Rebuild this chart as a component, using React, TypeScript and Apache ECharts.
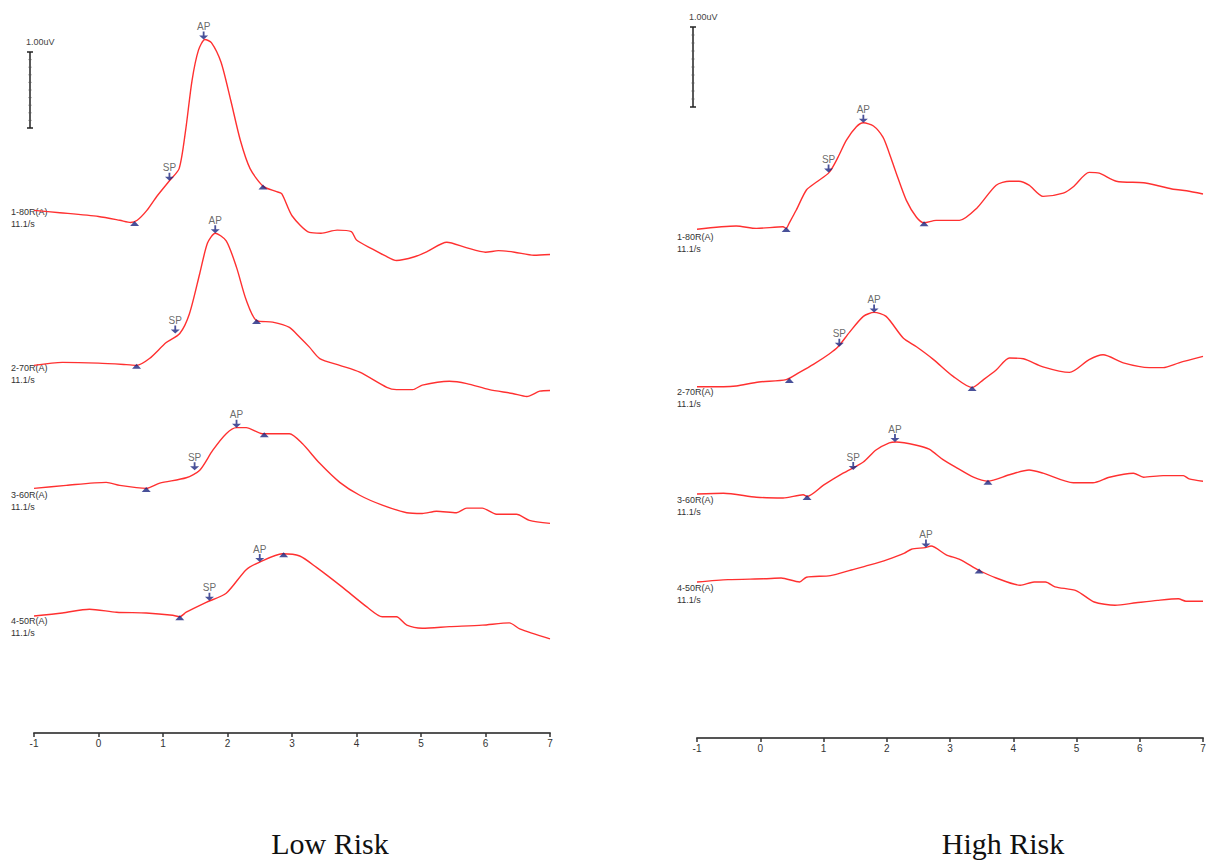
import React, { useEffect, useRef } from "react";
import * as echarts from "echarts";

// ---- x axis (ms) ----
const X_TICKS = [-1, 0, 1, 2, 3, 4, 5, 6, 7];

// ---- trace labels ----
const TRACE_NAMES = ["1-80R(A)", "2-70R(A)", "3-60R(A)", "4-50R(A)"];
const RATE = "11.1/s";

// ---- Low Risk traces: [time ms, amplitude uV relative to start] ----
const L1 = [[-1,0],[-0.6,-0.03],[0,-0.08],[0.33,-0.13],[0.5,-0.16],[0.6,-0.13],[0.75,0],[0.9,0.18],[1.1,0.39],[1.25,0.55],[1.35,1.05],[1.45,1.71],[1.55,2.11],[1.65,2.25],[1.75,2.21],[1.9,1.95],[2.05,1.45],[2.2,0.92],[2.35,0.55],[2.55,0.32],[2.75,0.25],[2.84,0.22],[3.0,-0.07],[3.27,-0.29],[3.45,-0.3],[3.7,-0.26],[3.92,-0.28],[4.0,-0.39],[4.25,-0.51],[4.45,-0.6],[4.62,-0.66],[4.9,-0.61],[5.1,-0.54],[5.4,-0.42],[5.7,-0.49],[6.0,-0.55],[6.2,-0.53],[6.45,-0.55],[6.75,-0.59],[7,-0.58]];
const L2 = [[-1,0],[-0.56,0.04],[0,0.03],[0.43,0.01],[0.59,0],[0.79,0.09],[1.05,0.3],[1.26,0.42],[1.41,0.68],[1.57,1.21],[1.69,1.61],[1.81,1.74],[1.98,1.64],[2.14,1.29],[2.29,0.86],[2.45,0.59],[2.7,0.57],[2.96,0.5],[3.12,0.37],[3.27,0.24],[3.43,0.09],[3.74,0],[4.05,-0.09],[4.47,-0.29],[4.62,-0.32],[4.87,-0.32],[5.02,-0.26],[5.44,-0.21],[5.71,-0.24],[6.06,-0.32],[6.42,-0.37],[6.64,-0.41],[6.84,-0.34],[7,-0.33]];
const L3 = [[-1,0],[-0.5,0.04],[0.12,0.08],[0.33,0.04],[0.74,0],[0.95,0.07],[1.36,0.14],[1.57,0.24],[1.77,0.5],[1.98,0.72],[2.14,0.8],[2.29,0.8],[2.54,0.72],[2.96,0.72],[3.16,0.59],[3.43,0.33],[3.74,0.08],[4.05,-0.09],[4.4,-0.22],[4.78,-0.32],[5.02,-0.33],[5.24,-0.3],[5.55,-0.32],[5.71,-0.26],[5.95,-0.26],[6.17,-0.34],[6.48,-0.34],[6.68,-0.42],[7,-0.46]];
const L4 = [[-1,0],[-0.56,0.04],[-0.14,0.09],[0.28,0.05],[0.74,0.04],[1.15,0.01],[1.26,-0.01],[1.36,0.05],[1.67,0.18],[1.98,0.3],[2.29,0.61],[2.5,0.71],[2.85,0.82],[3.12,0.79],[3.38,0.64],[3.78,0.38],[4.16,0.12],[4.4,-0.01],[4.62,-0.01],[4.78,-0.12],[5.02,-0.16],[5.44,-0.14],[5.95,-0.12],[6.37,-0.09],[6.53,-0.17],[7,-0.3]];
const LOW_TRACES = [L1, L2, L3, L4];
const LOW_OFFSETS = [6.88, 4.84, 3.22, 1.54];

// ---- High Risk traces ----
const R1 = [[-1,0],[-0.38,0.04],[-0.06,0.01],[0.36,0.03],[0.41,0.01],[0.46,0.08],[0.57,0.24],[0.73,0.49],[0.89,0.59],[1.09,0.71],[1.23,0.9],[1.36,1.11],[1.52,1.28],[1.63,1.33],[1.79,1.29],[1.94,1.15],[2.04,0.95],[2.15,0.7],[2.31,0.36],[2.47,0.15],[2.59,0.08],[2.78,0.11],[3.15,0.11],[3.42,0.26],[3.73,0.55],[3.94,0.6],[4.09,0.6],[4.25,0.55],[4.47,0.41],[4.79,0.45],[4.95,0.53],[5.2,0.71],[5.36,0.7],[5.63,0.6],[6.06,0.58],[6.31,0.54],[6.53,0.5],[6.74,0.48],[7,0.44]];
const R2 = [[-1,0],[-0.58,0],[-0.38,0.01],[-0.02,0.06],[0.41,0.09],[0.62,0.18],[0.84,0.28],[1.09,0.41],[1.23,0.5],[1.41,0.68],[1.63,0.88],[1.8,0.93],[1.99,0.88],[2.26,0.61],[2.47,0.5],[2.74,0.34],[3.05,0.13],[3.35,-0.01],[3.53,0.09],[3.73,0.21],[3.94,0.36],[4.16,0.35],[4.47,0.25],[4.89,0.18],[5.2,0.34],[5.42,0.4],[5.74,0.3],[6.15,0.24],[6.37,0.24],[6.62,0.3],[7,0.38]];
const R3 = [[-1,0],[-0.58,0.01],[-0.06,-0.04],[0.36,-0.05],[0.68,-0.01],[0.74,-0.03],[1.0,0.11],[1.31,0.26],[1.63,0.4],[1.83,0.55],[2.04,0.64],[2.15,0.65],[2.47,0.61],[2.67,0.56],[2.89,0.43],[3.1,0.33],[3.37,0.21],[3.6,0.16],[3.94,0.24],[4.25,0.3],[4.47,0.26],[4.95,0.14],[5.26,0.14],[5.52,0.21],[5.9,0.26],[6.06,0.21],[6.37,0.23],[6.69,0.23],[6.78,0.19],[7,0.16]];
const R4 = [[-1,0],[-0.51,0.03],[0.06,0.04],[0.33,0.05],[0.62,0],[0.73,0.06],[1.11,0.08],[1.44,0.15],[1.72,0.21],[2.01,0.28],[2.28,0.36],[2.39,0.41],[2.61,0.43],[2.7,0.45],[2.94,0.34],[3.16,0.28],[3.45,0.15],[3.73,0.05],[4.11,-0.04],[4.33,0],[4.51,0],[4.66,-0.06],[5.0,-0.11],[5.28,-0.25],[5.61,-0.29],[5.94,-0.26],[6.28,-0.23],[6.61,-0.21],[6.73,-0.24],[7,-0.24]];
const HIGH_TRACES = [R1, R2, R3, R4];
const HIGH_OFFSETS = [6.36, 4.39, 3.05, 1.95];

// ---- markers: [time, relative amplitude] ----
const LOW_SP = [[1.10, 0.39], [1.19, 0.42], [1.49, 0.24], [1.72, 0.20]];
const LOW_AP = [[1.63, 2.25], [1.81, 1.74], [2.14, 0.80], [2.50, 0.71]];
const LOW_TRI = [[[0.56, -0.16], [2.55, 0.32]], [[0.59, 0.0], [2.45, 0.59]], [[0.74, 0.0], [2.57, 0.72]], [[1.26, -0.01], [2.87, 0.82]]];
const HIGH_SP = [[1.08, 0.71], [1.25, 0.5], [1.47, 0.3], null];
const HIGH_AP = [[1.63, 1.33], [1.80, 0.93], [2.13, 0.65], [2.62, 0.43]];
const HIGH_TRI = [[[0.41, 0.01], [2.59, 0.08]], [[0.46, 0.09], [3.35, -0.01]], [[0.74, -0.03], [3.60, 0.16]], [[3.46, 0.15]]];

const PANEL_TITLES = ["Low Risk", "High Risk"];

const RED = "#ff3030";
const NAVY = "#1c2580";
const ARROW = "path://M4,0L6,0L6,5L10,5L5,10L0,5L4,5Z";
const SANS = "Liberation Sans, Arial, sans-serif";

function buildSeries(gi: number, traces: number[][][], offsets: number[], sp: any[], ap: number[][], tri: number[][][]) {
  const out: any[] = [];
  traces.forEach((tr, i) => {
    const off = offsets[i];
    out.push({
      type: "line",
      xAxisIndex: gi,
      yAxisIndex: gi,
      data: tr.map((p) => [p[0], p[1] + off]),
      smooth: 0.25,
      showSymbol: false,
      lineStyle: { color: RED, width: 1.4 },
      z: 2,
    });
    const arrows: any[] = [];
    if (sp[i]) arrows.push({ name: "SP", value: [sp[i][0], sp[i][1] + off] });
    arrows.push({ name: "AP", value: [ap[i][0], ap[i][1] + off] });
    out.push({
      type: "scatter",
      xAxisIndex: gi,
      yAxisIndex: gi,
      data: arrows,
      symbol: ARROW,
      symbolSize: [9, 8],
      symbolOffset: [0, -4],
      itemStyle: { color: NAVY },
      label: {
        show: true,
        formatter: (p: any) => p.name,
        position: "top",
        distance: 0,
        fontSize: 10,
        color: "#444",
        fontFamily: SANS,
      },
      z: 3,
    });
    out.push({
      type: "scatter",
      xAxisIndex: gi,
      yAxisIndex: gi,
      data: tri[i].map((p) => [p[0], p[1] + off]),
      symbol: "triangle",
      symbolSize: [9, 5],
      symbolOffset: [0, 1],
      itemStyle: { color: NAVY },
      z: 3,
    });
  });
  return out;
}

function scaleBar(x: number, y0: number, y1: number, textY: number) {
  const els: any[] = [];
  const st = { stroke: "#222", lineWidth: 1.5 };
  els.push({ type: "line", shape: { x1: x, y1: y0, x2: x, y2: y1 }, style: st });
  els.push({ type: "line", shape: { x1: x - 3, y1: y0, x2: x + 3, y2: y0 }, style: st });
  els.push({ type: "line", shape: { x1: x - 3, y1: y1, x2: x + 3, y2: y1 }, style: st });
  for (let k = 1; k < 10; k++) {
    const y = y0 + ((y1 - y0) * k) / 10;
    els.push({ type: "line", shape: { x1: x - 1.5, y1: y, x2: x + 1.5, y2: y }, style: { stroke: "#555", lineWidth: 0.8 } });
  }
  els.push({ type: "text", x: x - 4, y: textY, style: { text: "1.00uV", fontSize: 9, fill: "#444", fontFamily: SANS } });
  return els;
}

function traceLabels(x: number, ys: number[]) {
  const els: any[] = [];
  ys.forEach((y, i) => {
    els.push({ type: "text", x, y, style: { text: TRACE_NAMES[i], fontSize: 9, fill: "#333", fontFamily: SANS } });
    els.push({ type: "text", x, y: y + 12, style: { text: RATE, fontSize: 9, fill: "#333", fontFamily: SANS } });
  });
  return els;
}

export default function App() {
  const ref = useRef<HTMLDivElement>(null);
  useEffect(() => {
    if (!ref.current) return;
    const chart = echarts.init(ref.current, null, { renderer: "svg" });
    const xAxisBase = (gi: number) => ({
      type: "value",
      gridIndex: gi,
      min: -1,
      max: 7,
      interval: 1,
      axisLine: { show: true, lineStyle: { color: "#555", width: 2 } },
      axisTick: { show: true, inside: false, length: 4, lineStyle: { color: "#333", width: 1.5 } },
      axisLabel: {
        fontSize: 10,
        color: "#333",
        fontFamily: SANS,
        margin: 5,
        customValues: X_TICKS,
      },
      splitLine: { show: false },
    });
    const yAxisBase = (gi: number, max: number) => ({
      type: "value",
      gridIndex: gi,
      min: 0,
      max,
      show: false,
      splitLine: { show: false },
    });
    const serif = "Liberation Serif, Times New Roman, serif";
    const graphic: any[] = [
      ...scaleBar(30, 52, 128, 37),
      ...scaleBar(693, 27, 107, 12),
      ...traceLabels(11, [207, 363, 490, 616]),
      ...traceLabels(677, [232, 387, 495, 583]),
      {
        type: "text",
        x: 330,
        y: 843,
        style: { text: PANEL_TITLES[0], fontSize: 30, fill: "#111", fontFamily: serif, align: "center", verticalAlign: "middle" },
      },
      {
        type: "text",
        x: 1003,
        y: 843,
        style: { text: PANEL_TITLES[1], fontSize: 30, fill: "#111", fontFamily: serif, align: "center", verticalAlign: "middle" },
      },
    ];
    chart.setOption({
      animation: false,
      backgroundColor: "#ffffff",
      grid: [
        { left: 34, right: 666, top: 19, bottom: 128, outerBoundsMode: "none", containLabel: false },
        { left: 697, right: 13, top: 18, bottom: 123, outerBoundsMode: "none", containLabel: false },
      ],
      xAxis: [xAxisBase(0), xAxisBase(1)],
      yAxis: [yAxisBase(0, 9.4), yAxisBase(1, 9)],
      series: [
        ...buildSeries(0, LOW_TRACES, LOW_OFFSETS, LOW_SP, LOW_AP, LOW_TRI),
        ...buildSeries(1, HIGH_TRACES, HIGH_OFFSETS, HIGH_SP, HIGH_AP, HIGH_TRI),
      ],
      graphic,
    });
    return () => chart.dispose();
  }, []);
  return (
    <div
      ref={ref}
      style={{ position: "fixed", left: 0, top: 0, width: 1216, height: 861, background: "#fff" }}
    />
  );
}
